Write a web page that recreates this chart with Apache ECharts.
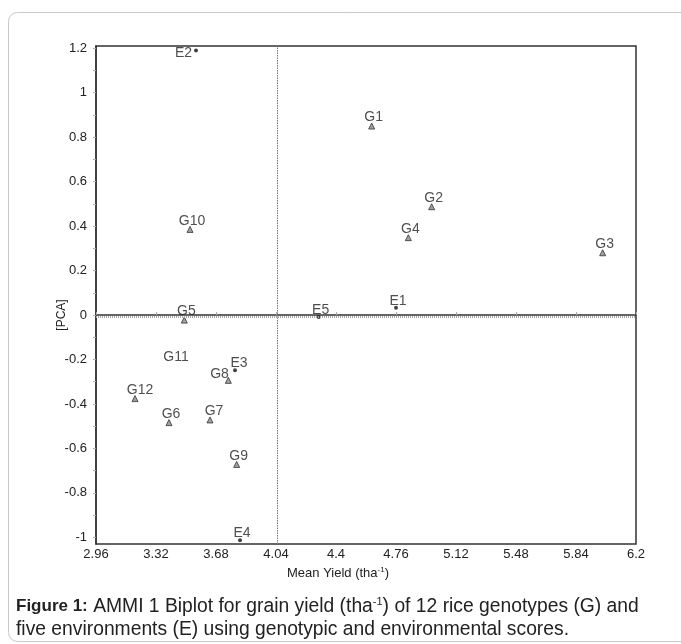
<!DOCTYPE html>
<html><head><meta charset="utf-8">
<style>html,body{margin:0;padding:0;background:#fff;}#c{width:681px;height:644px;}</style>
<script src="https://cdn.jsdelivr.net/npm/echarts@6/dist/echarts.min.js"></script>
</head><body><div id="c"></div>
<script>
// Genotypes (triangles)
const genoNames = ['G1','G2','G3','G4','G5','G6','G7','G8','G9','G10','G11','G12'];
const genoX = [4.614, 4.974, 6.000, 4.834, 3.490, 3.398, 3.644, 3.754, 3.804, 3.524, 3.428, 3.194];
const genoY = [0.850, 0.487, 0.280, 0.348, -0.023, -0.484, -0.472, -0.294, -0.672, 0.385, -0.213, -0.376];
// Environments (dots)
const envNames = ['E1','E2','E3','E4','E5'];
const envX = [4.760, 3.560, 3.794, 3.824, 4.296];
const envY = [0.033, 1.190, -0.248, -1.013, -0.009];
// Axis ticks
const xTicks = [2.96, 3.32, 3.68, 4.04, 4.4, 4.76, 5.12, 5.48, 5.84, 6.2];
const yTicks = [-1, -0.8, -0.6, -0.4, -0.2, 0, 0.2, 0.4, 0.6, 0.8, 1, 1.2];
const yMinorTicks = [-1, -0.9, -0.8, -0.7, -0.6, -0.5, -0.4, -0.3, -0.2, -0.1, 0, 0.1, 0.2, 0.3, 0.4, 0.5, 0.6, 0.7, 0.8, 0.9, 1, 1.1, 1.2];
// Reference lines (grand mean, zero)
const refX = 4.055;
const refY = -0.012;

const chart = echarts.init(document.getElementById('c'), null, {renderer: 'canvas'});
const fontFam = 'Liberation Sans, Arial, sans-serif';
const fmt = v => String(+(+v).toFixed(2));
const baseLabel = {show: true, position: 'top', distance: 0, offset: [2, 2], formatter: p => p.name, color: '#222', fontSize: 14, fontFamily: fontFam};
const labelOverrides = {
  G8: {position: 'left', distance: 0, offset: [4, -6]},
  E2: {position: 'left', distance: 2, offset: [0, 3]},
  E3: {offset: [4, 2]},
  G12: {offset: [5, 2]},
  G7: {offset: [4, 2]}
};
function mk(n, x, y, extra) {
  const d = Object.assign({name: n, value: [x, y]}, extra || {});
  if (labelOverrides[n]) d.label = labelOverrides[n];
  return d;
}

chart.setOption({
  animation: false,
  backgroundColor: '#fff',
  textStyle: {fontFamily: fontFam},
  grid: {left: 96, right: 45, top: 46, bottom: 100, show: true, borderColor: '#333', borderWidth: 1.5, backgroundColor: 'transparent'},
  xAxis: {
    type: 'value', min: 2.96, max: 6.2,
    splitLine: {show: false},
    axisLine: {show: true, lineStyle: {color: '#333', width: 1.5}},
    axisTick: {show: true, inside: true, length: 3, lineStyle: {color: '#aaa'}, customValues: xTicks},
    axisLabel: {customValues: xTicks, formatter: fmt, color: '#222', fontSize: 13, margin: 4, fontFamily: fontFam}
  },
  yAxis: {
    type: 'value', min: -1.03, max: 1.21,
    splitLine: {show: false},
    axisLine: {show: true, lineStyle: {color: '#333', width: 1.5}},
    axisTick: {show: true, inside: false, length: 3, lineStyle: {color: '#aaa'}, customValues: yMinorTicks},
    axisLabel: {customValues: yTicks, formatter: fmt, color: '#222', fontSize: 13, margin: 9, fontFamily: fontFam}
  },
  series: [
    {
      type: 'scatter', name: 'Genotypes', symbol: 'triangle', symbolSize: 6,
      itemStyle: {color: '#8a8a8a', borderColor: '#333', borderWidth: 1},
      label: baseLabel,
      data: genoNames.map((n, i) => mk(n, genoX[i], genoY[i], n === 'G11' ? {symbolSize: 0} : null)),
      markLine: {
        silent: true, symbol: 'none', label: {show: false},
        data: [
          {xAxis: refX, lineStyle: {color: '#777', type: [1.5, 1], width: 1}},
          {yAxis: refY, lineStyle: {color: '#aaa', type: [1, 1], width: 2}}
        ]
      },
      z: 3
    },
    {
      type: 'scatter', name: 'Environments', symbol: 'circle', symbolSize: 4,
      itemStyle: {color: '#111'},
      label: baseLabel,
      data: envNames.map((n, i) => mk(n, envX[i], envY[i])),
      z: 4
    }
  ],
  graphic: [
    {type: 'rect', silent: true, z: -10,
      shape: {x: 8.5, y: 12.5, width: 700, height: 629, r: 9},
      style: {fill: 'none', stroke: '#c8c8c8', lineWidth: 1}},
    {type: 'text', x: 62, y: 315, rotation: Math.PI / 2, silent: true,
      style: {text: '[PCA]', fill: '#222', fontSize: 12, fontFamily: fontFam, align: 'center', verticalAlign: 'middle'}},
    {type: 'text', x: 338, y: 573, silent: true,
      style: {text: 'Mean Yield (tha{s|-1})', rich: {s: {fontSize: 8, padding: [0, 0, 6, 0], fill: '#222', fontFamily: fontFam}}, fill: '#222', fontSize: 13, fontFamily: fontFam, align: 'center', verticalAlign: 'middle'}},
    {type: 'text', x: 16, y: 618, silent: true,
      style: {
        text: '{b|Figure 1:} AMMI 1 Biplot for grain yield (tha{s|-1}) of 12 rice genotypes (G) and\nfive environments (E) using genotypic and environmental scores.',
        rich: {b: {fontWeight: 'bold', fontSize: 17, fill: '#222', fontFamily: fontFam}, s: {fontSize: 11, padding: [0, 0, 9, 0], fill: '#222', fontFamily: fontFam}},
        fill: '#222', fontSize: 19.3, lineHeight: 23, fontFamily: fontFam, align: 'left', verticalAlign: 'middle'
      }}
  ]
});
</script>
</body></html>
